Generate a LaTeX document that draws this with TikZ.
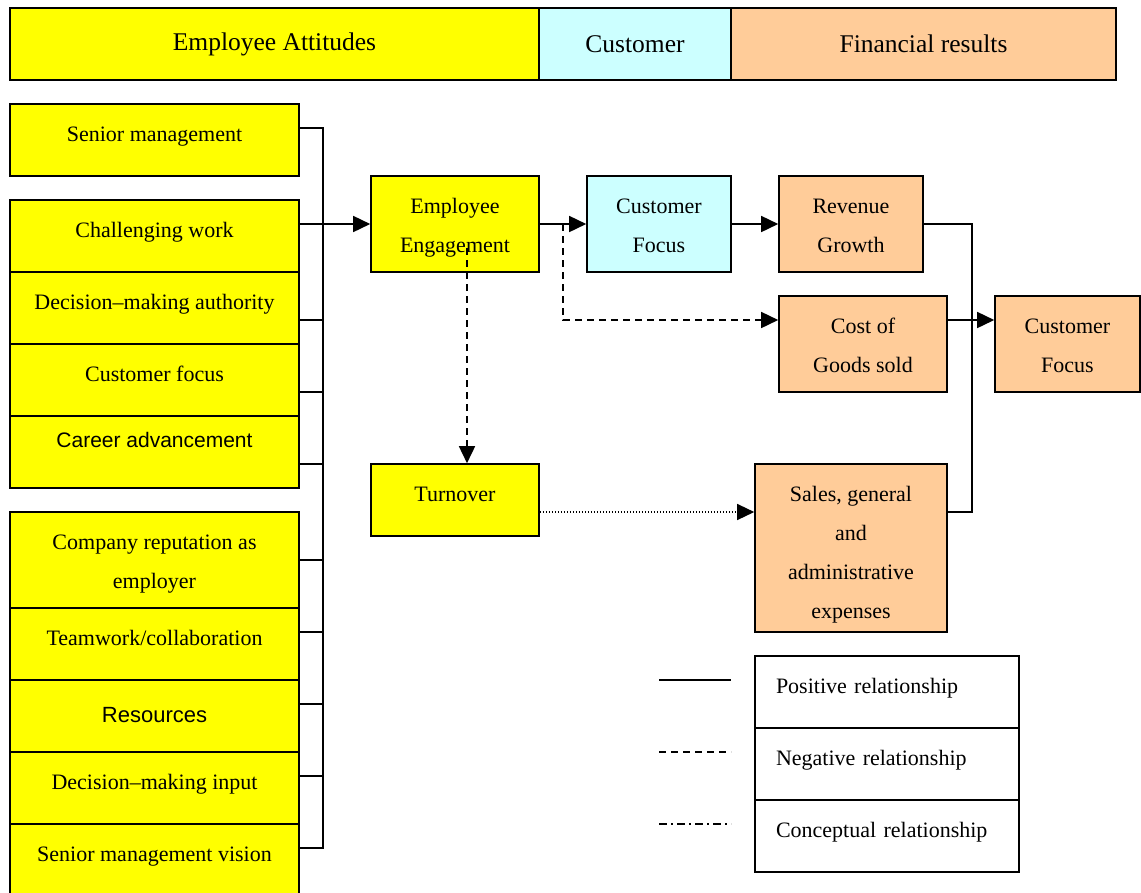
\documentclass[tikz,border=0pt]{standalone}
\usepackage{fontspec}
\setmainfont{Liberation Serif}
\newfontfamily\arialfont{Liberation Sans}
\usetikzlibrary{arrows.meta}
\definecolor{attyellow}{RGB}{255,255,0}
\definecolor{custcyan}{RGB}{204,255,255}
\definecolor{finorange}{RGB}{255,204,153}
\begin{document}
\begin{tikzpicture}[x=1pt,y=-1pt,
  box/.style={draw=black, line width=1.6pt, align=center, inner sep=0pt,
    font=\fontsize{22}{39}\selectfont},
  single/.style={text height=15pt, text depth=12pt},
  twoline/.style={text height=61pt, text depth=5pt},
  hdr/.style={box, minimum height=72, font=\fontsize{25.5}{30}\selectfont},
  ybox/.style={box, fill=attyellow},
  cbox/.style={box, fill=custcyan},
  obox/.style={box, fill=finorange},
  lbox/.style={box, single, fill=white, minimum width=264, minimum height=72,
    text width=222, align=left},
  leftcol/.style={ybox, single, minimum width=289, minimum height=72},
  conn/.style={line width=1.6pt},
  tip/.style={-{Triangle[length=17pt,width=16pt]}},
  arr/.style={conn, tip},
  neg/.style={arr, dash pattern=on 7pt off 5pt},
  concept/.style={line width=1.3pt, tip, dash pattern=on 1.5pt off 1.5pt},
]
\useasboundingbox (0,0) rectangle (1141,892);

% header bar
\node[hdr, fill=attyellow, minimum width=529] (h1) at (274.5,44) {Employee Attitudes};
\node[hdr, fill=custcyan, minimum width=192] (h2) at (635,44) {Customer};
\node[hdr, fill=finorange, minimum width=385] (h3) at (923.5,44) {Financial results};

% employee attitude factors
\node[leftcol] (sm) at (154.5,140) {Senior management};
\node[leftcol] (cw) at (154.5,236) {Challenging work};
\node[leftcol] (dma) at (154.5,308) {Decision–making authority};
\node[leftcol] (cf) at (154.5,380) {Customer focus};
\node[leftcol, font=\arialfont\fontsize{21}{30}\selectfont, text depth=24pt] (ca) at (154.5,452) {Career advancement};
\node[leftcol, minimum height=96, text height=62pt, text depth=5pt] (cr) at (154.5,560) {Company reputation as\\employer};
\node[leftcol] (tw) at (154.5,644) {Teamwork/collaboration};
\node[leftcol, font=\arialfont\fontsize{22}{30}\selectfont, text depth=2pt] (res) at (154.5,716) {Resources};
\node[leftcol] (dmi) at (154.5,788) {Decision–making input};
\node[leftcol] (smv) at (154.5,860) {Senior management vision};

% chain
\node[ybox, twoline, minimum width=168, minimum height=96] (eng) at (455,224) {Employee\\Engagement};
\node[cbox, twoline, minimum width=144, minimum height=96] (cust) at (659,224) {Customer\\Focus};
\node[obox, twoline, minimum width=144, minimum height=96] (rev) at (851,224) {Revenue\\Growth};
\node[obox, twoline, minimum width=168, minimum height=96] (cost) at (863,344) {Cost of\\Goods sold};
\node[obox, twoline, minimum width=145, minimum height=96] (cf2) at (1067.5,344) {Customer\\Focus};
\node[ybox, single, minimum width=168, minimum height=72] (turn) at (455,500) {Turnover};
\node[obox, minimum width=192, minimum height=168, text height=146pt, text depth=5pt] (sga) at (851,548) {Sales, general\\and\\administrative\\expenses};

% bus collecting the attitude factors
\coordinate (busTop) at (323,128);
\coordinate (busBot) at (323,848);
\draw[conn] (busTop) -- (busBot);
\foreach \n/\s in {sm/12,dma/-12,cf/-12,ca/-12,cr/0,tw/12,res/12,dmi/12,smv/12}
  \draw[conn] ([yshift=\s pt]\n.east) -- ++(24,0);
\draw[arr] ([yshift=12pt]cw.east) -- (eng.west);

% positive links
\draw[arr] (eng.east) -- (cust.west);
\draw[arr] (cust.east) -- (rev.west);
\draw[conn] (rev.east) -- ++(48,0) |- ([yshift=36pt]sga.east);
\draw[arr] ([yshift=24pt]cost.east) -- ([yshift=24pt]cf2.west);

% negative links
\coordinate (split) at (563,224);
\draw[neg] (split) |- ([yshift=24pt]cost.west);
\draw[neg] ([xshift=12pt,yshift=-24pt]eng.center) -- ([xshift=12pt]turn.north);

% conceptual link
\draw[concept] ([yshift=-12pt]turn.east) -- ([yshift=-12pt]turn.east -| sga.west);

% legend
\node[lbox] (lpos) at (887,692) {Positive relationship};
\node[lbox] (lneg) at (887,764) {Negative relationship};
\node[lbox] (lcon) at (887,836) {Conceptual relationship};
\coordinate (k1a) at (659,680); \coordinate (k1b) at (731,680);
\coordinate (k2a) at (659,752); \coordinate (k2b) at (731,752);
\coordinate (k3a) at (659,824); \coordinate (k3b) at (731,824);
\draw[line width=1.5pt] (k1a) -- (k1b);
\draw[line width=1.5pt, dash pattern=on 7pt off 5pt] (k2a) -- (k2b);
\draw[line width=1.5pt, dash pattern=on 8pt off 4pt on 2pt off 4pt] (k3a) -- (k3b);
\end{tikzpicture}
\end{document}
